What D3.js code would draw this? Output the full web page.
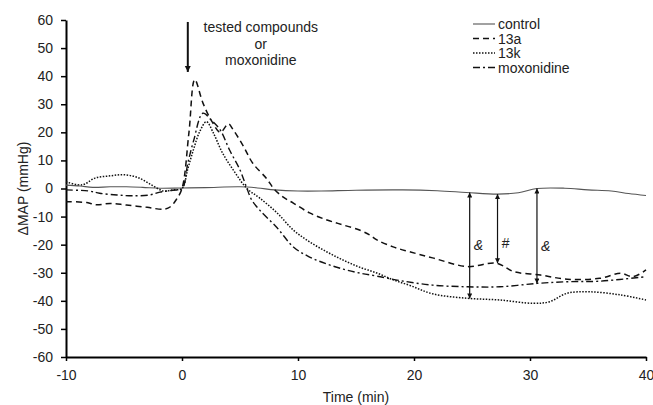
<!DOCTYPE html>
<html>
<head>
<meta charset="utf-8">
<script src="https://cdn.jsdelivr.net/npm/d3@7"></script>
<style>
  body { margin: 0; background: #fff; }
  svg { display: block; }
  text { font-family: "Liberation Sans", Arial, sans-serif; fill: #222; }
</style>
</head>
<body>
<svg id="chart" width="653" height="405"></svg>
<script>
// ---- data ----
const xTicks = [-10, 0, 10, 20, 30, 40];
const yTicks = [-60, -50, -40, -30, -20, -10, 0, 10, 20, 30, 40, 50, 60];
const seriesNames = ["control", "13a", "13k", "moxonidine"];

const control = [[-10,1.2],[-8.8,0.9],[-7.7,0.4],[-6.2,0.6],[-4.8,0.6],[-3.4,0.4],[-1.9,0.1],[0,0.2],[2,0.3],[5,0.6],[6.5,0.2],[8,-0.5],[10,-0.9],[12,-0.9],[15,-0.6],[19,-0.5],[22,-0.8],[24.5,-1.4],[27.2,-2],[29,-1.5],[30.6,0],[33,0.1],[35,-0.5],[37,-0.9],[38.5,-1.8],[40,-2.5]];

const s13a = [[-10,-4.7],[-8.2,-5.0],[-7.4,-5.8],[-6.2,-5.3],[-4.8,-5.9],[-3,-6.7],[-1.6,-7.4],[-1,-6.5],[-0.5,-4],[0,0],[0.6,20],[1.1,38.8],[1.8,30.5],[2.6,23.7],[3.3,20],[4,23],[4.4,21],[5.3,15],[6.1,9],[7.3,3.5],[7.9,0],[8.7,-3],[9.6,-5.2],[11,-8.7],[12.5,-11.2],[13.9,-13],[15.3,-14.8],[16.2,-16.6],[16.8,-18.3],[18.2,-20.8],[19.7,-22.6],[21.6,-24.7],[24.6,-27.8],[27.1,-26.6],[28.6,-29.6],[30.9,-30.8],[33.2,-32.3],[36,-32],[37.8,-30.2],[38.9,-31.4],[40,-29]];

const s13k = [[-10,2.4],[-8.6,1.3],[-7.5,3.7],[-6.2,4.5],[-5,4.9],[-3.8,3.9],[-2.6,1.2],[-1.6,-0.9],[-0.8,-0.5],[0,0],[0.5,7],[1,14],[1.5,20],[2.1,23.8],[2.7,19.8],[3.5,12.6],[4.6,5.5],[5.6,0],[6.7,-3.4],[8.2,-8.7],[9.6,-14.8],[11,-19],[12.5,-22.6],[13.9,-25.5],[15.3,-28],[16.8,-30.1],[18.2,-32.5],[19.7,-34.6],[21.6,-37.5],[24.6,-39.1],[27.4,-39.7],[30.3,-40.9],[31.7,-40.3],[33.2,-37.3],[35.2,-36.8],[37.8,-37.9],[40,-39.7]];

const moxonidine = [[-10,-0.5],[-8,-0.9],[-7.1,-1.7],[-5.6,-2.3],[-4.3,-2.6],[-2.8,-2.3],[-1.9,-1.3],[-0.8,-0.6],[0,0],[0.5,9],[1,17],[1.8,26.8],[2.5,24.5],[3.3,20.8],[4.1,13.7],[5,6.6],[5.6,0],[6,-4],[6.7,-7.7],[8.2,-14],[9.6,-20.8],[11,-24.4],[12.5,-26.9],[13.9,-28.7],[15.3,-30.1],[16.8,-31.2],[18.8,-32.8],[21.6,-34.4],[24.6,-35],[27.4,-35],[30.6,-33.8],[33.2,-33.2],[36,-33],[40,-31.4]];

// significance arrows: time, top value, bottom value, label, label value
const sigT = [24.8, 27.2, 30.6];
const sigFrom = [-1.4, -2, 0];
const sigTo = [-39.2, -26.6, -33.8];
const sigLabel = ["&", "#", "&"];
const sigLabelV = [-20, -19.5, -20.5];

// injection arrow
const injT = 0.5, injFrom = 59.3, injTo = 41.5;
const injText = ["tested compounds", "or", "moxonidine"];

// ---- drawing ----
const svg = d3.select("#chart");
const x = d3.scaleLinear().domain([-10, 40]).range([66, 646]);
const y = d3.scaleLinear().domain([-60, 60]).range([357, 20]);

const defs = svg.append("defs");
defs.append("marker").attr("id", "ah").attr("viewBox", "0 0 10 10")
  .attr("refX", 10).attr("refY", 5).attr("markerWidth", 6).attr("markerHeight", 8)
  .attr("markerUnits", "userSpaceOnUse").attr("orient", "auto-start-reverse")
  .append("path").attr("d", "M0,0L10,5L0,10Z").attr("fill", "#111");
defs.append("marker").attr("id", "ahs").attr("viewBox", "0 0 10 10")
  .attr("refX", 10).attr("refY", 5).attr("markerWidth", 6).attr("markerHeight", 5)
  .attr("markerUnits", "userSpaceOnUse").attr("orient", "auto-start-reverse")
  .append("path").attr("d", "M0,0L10,5L0,10Z").attr("fill", "#111");

// axes
const fmt = d => String(d);
const yAxis = d3.axisLeft(y).tickValues(yTicks).tickFormat(fmt).tickSize(5).tickSizeOuter(0).tickPadding(8);
const xAxis = d3.axisBottom(x).tickValues(xTicks).tickFormat(fmt).tickSize(4).tickSizeOuter(0).tickPadding(9);
const gy = svg.append("g").attr("transform", `translate(${x(-10)},0)`).call(yAxis);
const gx = svg.append("g").attr("transform", `translate(0,${y(-60)})`).call(xAxis);
[gx, gy].forEach(g => {
  g.select(".domain").attr("stroke", "#000").attr("stroke-width", 2);
  g.selectAll(".tick line").attr("stroke", "#000").attr("stroke-width", 1.5);
  g.selectAll(".tick text").attr("font-size", 14).attr("fill", "#222")
    .attr("font-family", '"Liberation Sans", Arial, sans-serif');
});

svg.append("text").attr("transform", `translate(23,${y(0)}) rotate(-90)`)
  .attr("text-anchor", "middle").attr("dominant-baseline", "central")
  .attr("font-size", 14).text("ΔMAP (mmHg)");
svg.append("text").attr("x", 356).attr("y", 402).attr("text-anchor", "middle")
  .attr("font-size", 14).text("Time (min)");

// series
const styles = [
  { data: control, color: "#555", width: 1.1, dash: null },
  { data: s13a, color: "#111", width: 1.5, dash: "6,4" },
  { data: s13k, color: "#111", width: 1.5, dash: "1.5,1.5" },
  { data: moxonidine, color: "#111", width: 1.4, dash: "7,3,2,3" }
];
const line = d3.line().x(d => x(d[0])).y(d => y(d[1])).curve(d3.curveCatmullRom.alpha(0.5));
styles.forEach(s => {
  svg.append("path").datum(s.data).attr("d", line)
    .attr("fill", "none").attr("stroke", s.color).attr("stroke-width", s.width)
    .attr("stroke-dasharray", s.dash);
});

// legend
const lg = svg.append("g");
seriesNames.forEach((n, i) => {
  const cy = 24 + i * 14.5;
  lg.append("line").attr("x1", 473).attr("x2", 495).attr("y1", cy).attr("y2", cy)
    .attr("stroke", styles[i].color).attr("stroke-width", styles[i].width)
    .attr("stroke-dasharray", styles[i].dash);
  lg.append("text").attr("x", 498).attr("y", cy + 5).attr("font-size", 14).text(n);
});

// injection arrow + text
svg.append("line").attr("x1", x(injT)).attr("x2", x(injT))
  .attr("y1", y(injFrom)).attr("y2", y(injTo))
  .attr("stroke", "#111").attr("stroke-width", 2).attr("marker-end", "url(#ah)");
injText.forEach((t, i) => {
  svg.append("text").attr("x", x(injT) + 73).attr("y", 32 + i * 16.5)
    .attr("text-anchor", "middle").attr("font-size", 14).text(t);
});

// significance arrows
sigT.forEach((t, i) => {
  svg.append("line").attr("x1", x(t)).attr("x2", x(t))
    .attr("y1", y(sigFrom[i])).attr("y2", y(sigTo[i]))
    .attr("stroke", "#111").attr("stroke-width", 1.2)
    .attr("marker-start", "url(#ahs)").attr("marker-end", "url(#ahs)");
  svg.append("text").attr("x", x(t) + 4).attr("y", y(sigLabelV[i]) + 5)
    .attr("font-size", 14).attr("font-family", '"Liberation Serif", serif')
    .attr("font-style", "italic").text(sigLabel[i]);
});
</script>
</body>
</html>
